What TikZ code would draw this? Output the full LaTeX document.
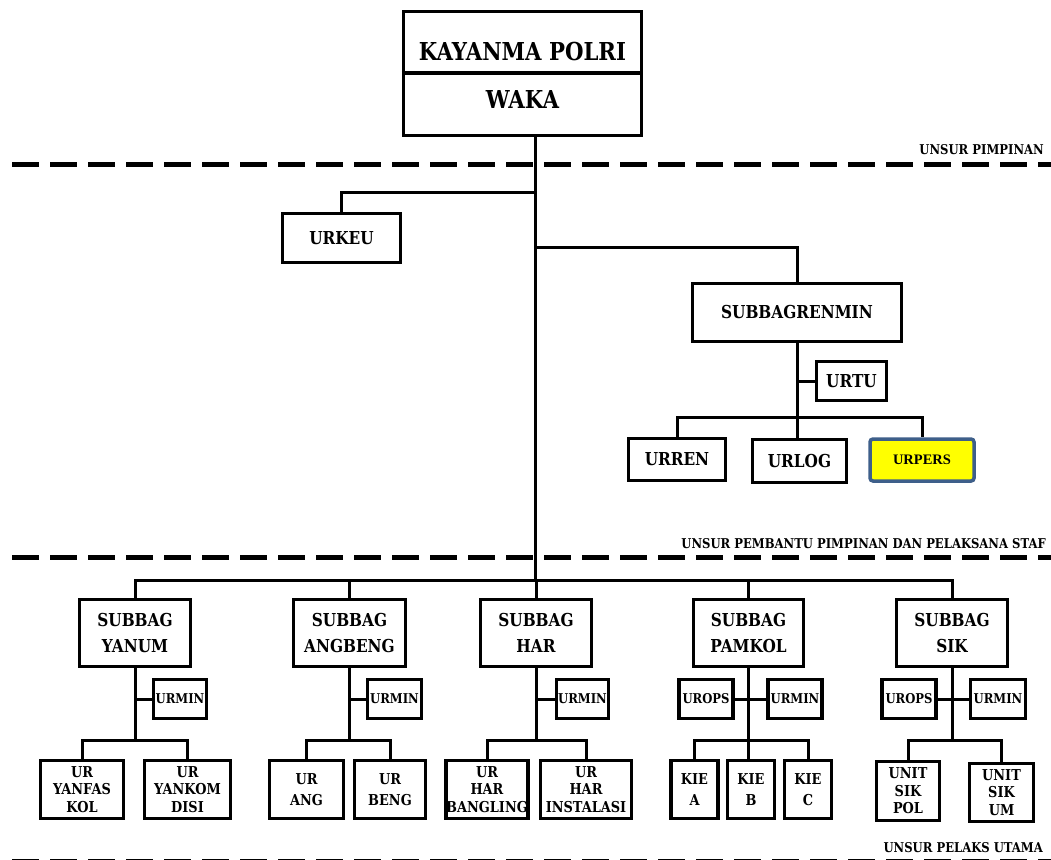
\documentclass[tikz,border=0pt]{standalone}
\usepackage{fontspec}
\usetikzlibrary{shadows}
\setmainfont{DejaVu Serif}[FakeStretch=0.86]
\newfontfamily\timesf{Liberation Serif}
\definecolor{persblue}{HTML}{3E5F8A}
\definecolor{persyellow}{HTML}{FFFF00}
\tikzset{
  box/.style={draw, line width=3.5pt, fill=white, inner sep=0pt, align=center,
    drop shadow={shadow xshift=1.5pt, shadow yshift=-1.5pt, opacity=0.25}},
  conn/.style={line width=3pt},
  fbig/.style={font=\fontsize{24.7}{28}\selectfont\bfseries},
  fmid/.style={font=\fontsize{17.8}{26}\selectfont\bfseries},
  fsm/.style={font=\fontsize{13.5}{16}\selectfont\bfseries},
  fleaf/.style={font=\fontsize{15}{17.5}\selectfont\bfseries},
  fleaftwo/.style={font=\fontsize{15}{21}\selectfont\bfseries},
  flab/.style={font=\fontsize{13.5}{16}\selectfont\bfseries},
  sepline/.style={line width=5pt, dash pattern=on 27pt off 11pt},
}
\begin{document}
\begin{tikzpicture}[x=1pt,y=-1pt]
\fill[white] (0,0) rectangle (1051,859);
\useasboundingbox (0,0) rectangle (1051,859);
% separators
\draw[sepline] (12,164) -- (1051,164);
\draw[sepline] (12,557) -- (1051,557);
\draw[sepline] (12,861) -- (1051,861);
% labels
\node[flab, anchor=base east, inner sep=0pt] (l1) at (1044,154) {UNSUR PIMPINAN};
\node[flab, anchor=base east, inner sep=0pt] (l2) at (1046,548) {UNSUR PEMBANTU PIMPINAN DAN PELAKSANA STAF};
\node[flab, anchor=base east, inner sep=0pt] (l3) at (1043,852) {UNSUR PELAKS UTAMA};
% top box
\node[box, minimum width=238, minimum height=124] (top) at (522.5,73.5) {};
\draw[line width=3.5pt] (top.west |- 0,73) -- (top.east |- 0,73);
\node[fbig] (kay) at (522.5,52) {KAYANMA POLRI};
\node[fbig] (waka) at (522.5,99) {WAKA};
% trunk
\coordinate (tk) at (535,137);
\coordinate (bus) at (535,580);
\draw[conn] (top.south -| tk) -- (bus);
% URKEU
\node[box, fmid, minimum width=118, minimum height=49] (urkeu) at (341.5,238) {URKEU};
\coordinate (j1) at (535,192);
\draw[conn] (j1) -| (urkeu.north);
% SUBBAGRENMIN
\node[box, fmid, minimum width=209, minimum height=58] (srm) at (797,312.5) {SUBBAGRENMIN};
\coordinate (j2) at (535,247);
\draw[conn] (j2) -| (srm.north);
\node[box, fmid, minimum width=70, minimum height=39] (urtu) at (851.5,381) {URTU};
\coordinate (j3) at (797,417);
\draw[conn] (srm.south) -- (j3);
\draw[conn] (urtu.west) -- (urtu.west -| srm.south);
\node[box, fmid, minimum width=97, minimum height=42] (urren) at (677,459.5) {URREN};
\node[box, fmid, minimum width=94, minimum height=43] (urlog) at (799.5,461) {URLOG};
\node[draw=persblue, fill=persyellow, line width=3.5pt, rounded corners=3pt, inner sep=0pt,
      drop shadow={shadow xshift=1.5pt, shadow yshift=-1.5pt, opacity=0.25},
      minimum width=104, minimum height=42, font=\timesf\fontsize{14.5}{17}\selectfont\bfseries] (urpers) at (922,460) {URPERS};
\draw[conn] (urren.north) |- (j3) -| (urpers.north);
\draw[conn] (j3) -- (j3 |- urlog.north);
% ---------- bottom level ----------
\node[box, fmid, minimum width=111, minimum height=67] (yanum) at (135,633) {SUBBAG\\YANUM};
\node[box, fmid, minimum width=112, minimum height=67] (angbeng) at (349.5,633) {SUBBAG\\ANGBENG};
\node[box, fmid, minimum width=111, minimum height=67] (har) at (536,633) {SUBBAG\\HAR};
\node[box, fmid, minimum width=110, minimum height=67] (pamkol) at (748.5,633) {SUBBAG\\PAMKOL};
\node[box, fmid, minimum width=111, minimum height=67] (sik) at (952,633) {SUBBAG\\SIK};
\draw[conn] (yanum.north) -- (yanum.north |- bus) -- (sik.north |- bus) -- (sik.north);
\draw[conn] (angbeng.north) -- (angbeng.north |- bus);
\draw[conn] (har.north) -- (har.north |- bus);
\draw[conn] (pamkol.north) -- (pamkol.north |- bus);
% YANUM group
\node[box, fsm, minimum width=53, minimum height=39] (yumin) at (180,699) {URMIN};
\coordinate (yb) at (135,740);
\draw[conn] (yanum.south) -- (yb);
\draw[conn] (yumin.west) -- (yumin.west -| yb);
\node[box, fleaf, minimum width=83, minimum height=58] (yanfas) at (82,789.5) {UR\\YANFAS\\KOL};
\node[box, fleaf, minimum width=86, minimum height=58] (yankom) at (187.5,789.5) {UR\\YANKOM\\DISI};
\draw[conn] (yanfas.north) |- (yb) -| (yankom.north);
% ANGBENG group
\node[box, fsm, minimum width=54, minimum height=39] (aumin) at (394.5,699) {URMIN};
\coordinate (ab) at (349.5,740);
\draw[conn] (angbeng.south) -- (ab);
\draw[conn] (aumin.west) -- (aumin.west -| ab);
\node[box, fleaftwo, minimum width=74, minimum height=58] (ang) at (306.5,789.5) {UR\\ANG};
\node[box, fleaftwo, minimum width=71, minimum height=58] (beng) at (390,789.5) {UR\\BENG};
\draw[conn] (ang.north) |- (ab) -| (beng.north);
% HAR group
\node[box, fsm, minimum width=52, minimum height=39] (humin) at (582.5,699) {URMIN};
\coordinate (hb) at (536,740);
\draw[conn] (har.south) -- (hb);
\draw[conn] (humin.west) -- (humin.west -| hb);
\node[box, fleaf, minimum width=81, minimum height=58] (bangling) at (487,789.5) {UR\\HAR\\BANGLING};
\node[box, fleaf, minimum width=91, minimum height=58] (instal) at (586,789.5) {UR\\HAR\\INSTALASI};
\draw[conn] (bangling.north) |- (hb) -| (instal.north);
% PAMKOL group
\node[box, fsm, minimum width=54, minimum height=39] (pops) at (706,699) {UROPS};
\node[box, fsm, minimum width=54, minimum height=39] (pmin) at (795,699) {URMIN};
\coordinate (pb) at (748.5,740);
\draw[conn] (pamkol.south) -- (pb);
\draw[conn] (pops.east) -- (pmin.west);
\node[box, fleaftwo, minimum width=47, minimum height=58] (kiea) at (694.5,789.5) {KIE\\A};
\node[box, fleaftwo, minimum width=47, minimum height=58] (kieb) at (751,789.5) {KIE\\B};
\node[box, fleaftwo, minimum width=47, minimum height=58] (kiec) at (808,789.5) {KIE\\C};
\draw[conn] (kiea.north) |- (pb) -| (kiec.north);
\draw[conn] (pb) -- (pb |- kieb.north);
% SIK group
\node[box, fsm, minimum width=54, minimum height=39] (sops) at (909,699) {UROPS};
\node[box, fsm, minimum width=55, minimum height=39] (smin) at (998,699) {URMIN};
\coordinate (sb) at (952,740);
\draw[conn] (sik.south) -- (sb);
\draw[conn] (sops.east) -- (smin.west);
\node[box, fleaf, minimum width=63, minimum height=59] (pol) at (908,791) {UNIT\\SIK\\POL};
\node[box, fleaf, minimum width=64, minimum height=58] (um) at (1001.5,792.5) {UNIT\\SIK\\UM};
\draw[conn] (pol.north) |- (sb) -| (um.north);
\end{tikzpicture}
\end{document}
